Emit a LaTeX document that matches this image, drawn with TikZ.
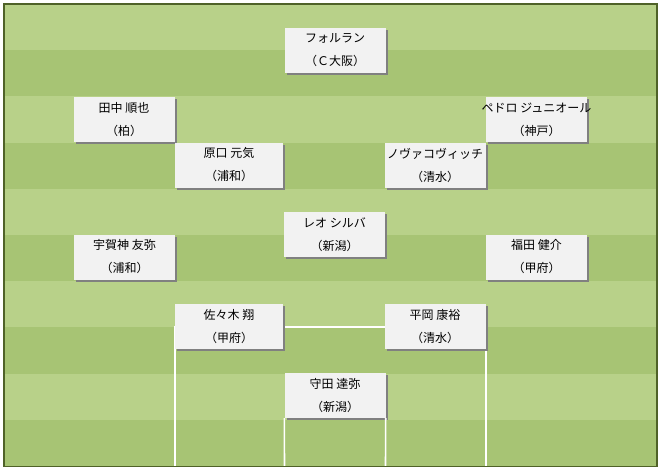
\documentclass[tikz,border=0pt]{standalone}
\usepackage{fontspec}
\newfontfamily\jp{Noto Sans CJK JP}
\usetikzlibrary{shadows}
\definecolor{stripeA}{HTML}{B8D189}
\definecolor{stripeB}{HTML}{A7C474}
\definecolor{fieldborder}{HTML}{4F6228}
\definecolor{boxgray}{HTML}{F2F2F2}
\definecolor{shadowgray}{HTML}{808080}
\tikzset{
  player/.style={fill=boxgray, minimum width=101pt, minimum height=45pt, inner sep=0pt,
    drop shadow={shadow xshift=2pt, shadow yshift=-2pt, fill=shadowgray, opacity=1},
    font=\jp\fontsize{12}{23}\selectfont, align=center, text=black},
  wide/.style={minimum width=108pt},
  fieldline/.style={draw=white, line width=1.6pt}
}
\newcommand{\pl}[2]{\makebox[0pt]{#1}\\\makebox[0pt]{#2}}
\begin{document}
\begin{tikzpicture}[x=1pt,y=-1pt]
\useasboundingbox (0,0) rectangle (660,471);
% stripes
\foreach \i in {0,...,9}{
  \pgfmathsetmacro{\ya}{4+46.2*\i}
  \pgfmathsetmacro{\yb}{4+46.2*(\i+1)}
  \pgfmathtruncatemacro{\odd}{mod(\i,2)}
  \ifnum\odd=0 \fill[stripeA] (4,\ya) rectangle (657,\yb);
  \else \fill[stripeB] (4,\ya) rectangle (657,\yb); \fi
}
% bottom ends of field lines
\coordinate (bl) at (175,467);
\coordinate (br) at (486,467);
\coordinate (gl) at (284.5,467);
\coordinate (gr) at (385.5,467);
% penalty area
\draw[fieldline] (bl) -- (175,327) -- (486,327) -- (br);
% players
\node[player] (forlan) at (335,50.5) {\pl{フォルラン}{（Ｃ大阪）}};
\node[player] (tanaka) at (124,119.5) {\pl{田中 順也}{（柏）}};
\node[player] (pedro) at (536.5,119.5) {\pl{ペドロ ジュニオール}{（神戸）}};
\node[player,wide] (haraguchi) at (229,165) {\pl{原口 元気}{（浦和）}};
\node[player] (novak) at (435,165) {\pl{ノヴァコヴィッチ}{（清水）}};
\node[player] (leo) at (334.5,234.5) {\pl{レオ シルバ}{（新潟）}};
\node[player] (ugajin) at (124.5,257) {\pl{宇賀神 友弥}{（浦和）}};
\node[player] (fukuda) at (536.5,257) {\pl{福田 健介}{（甲府）}};
\node[player,wide] (sasaki) at (229,326.5) {\pl{佐々木 翔}{（甲府）}};
\node[player] (hiraoka) at (435,326.5) {\pl{平岡 康裕}{（清水）}};
\node[player] (morita) at (335,395.5) {\pl{守田 達弥}{（新潟）}};
% goal area lines below keeper box
\draw[fieldline] (morita.south west) -- (gl);
\draw[fieldline] (morita.south east) -- (gr);
% border
\draw[fieldborder, line width=1.5pt] (4,4) rectangle (657,466.5);
\end{tikzpicture}
\end{document}
